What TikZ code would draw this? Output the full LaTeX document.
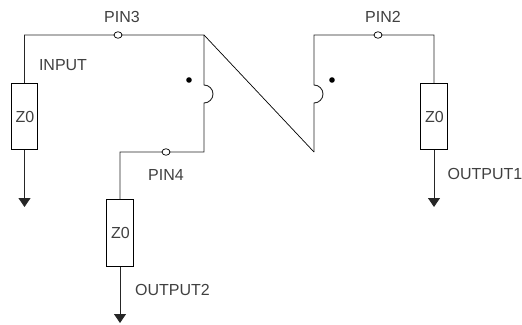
\documentclass[tikz,border=0pt]{standalone}
\usepackage{fontspec}
\setmainfont{Liberation Sans}
\usetikzlibrary{arrows.meta, shapes.geometric}
\tikzset{
 zbox/.style={draw, rectangle, minimum width=26.5pt, minimum height=66.5pt, inner sep=0pt, line width=0.9pt},
 pin/.style={draw, ellipse, fill=white, minimum width=8pt, minimum height=6.5pt, inner sep=0pt, line width=0.7pt},
 txt/.style={inner sep=0pt, font=\fontsize{16}{16}\selectfont, text=black!75},
 wire/.style={line width=0.9pt, black!85},
 gnd/.style={wire, -{Triangle[length=9pt,width=12pt]}}
}
\begin{document}
\begin{tikzpicture}[x=1pt,y=-1pt]
 \useasboundingbox (0,0) rectangle (522,324);

 % corners
 \coordinate (tl) at (24.5,35);
 \coordinate (tm) at (204,35);
 \coordinate (bm) at (204,152);
 \coordinate (bl) at (120,152);
 \coordinate (rl) at (314,35);
 \coordinate (rb) at (314,152);
 \coordinate (rr) at (434,35);
 \coordinate (bumpa) at (204,85);
 \coordinate (bumpd) at (314,103);

 % loads
 \node[zbox] (z1) at (24.5,116.5) {};
 \node[zbox] (z2) at (120,233) {};
 \node[zbox] (z3) at (434,116.5) {};
 \node[txt] (z1t) at (25,116.5) {Z0};
 \node[txt] (z2t) at (120.5,233) {Z0};
 \node[txt] (z3t) at (434.5,116.5) {Z0};

 % arrow ends
 \coordinate (e1) at (24.5,207);
 \coordinate (e2) at (120,323);
 \coordinate (e3) at (434,207);

 % wires
 \draw[wire] (z1) -- (tl) -- (tm) -- (bumpa) arc[start angle=90, end angle=-90, radius=9pt] -- (bm) -- (bl) -- (z2);
 \draw[wire] (rb) -- (bumpd) arc[start angle=-90, end angle=90, radius=9pt] -- (rl) -- (rr) -- (z3);
 \draw[line width=0.7pt] (tm) -- (rb);
 \draw[gnd] (z1) -- (e1);
 \draw[gnd] (z2) -- (e2);
 \draw[gnd] (z3) -- (e3);

 % pins
 \node[pin] (pin3) at (118,35) {};
 \node[pin] (pin4) at (166,152) {};
 \node[pin] (pin2) at (378,35) {};

 % dots
 \fill (189,80) circle (2.8pt);
 \fill (332,80) circle (2.8pt);

 % labels
 \node[txt] (pin3t) at (122,17) {PIN3};
 \node[txt] (pin2t) at (383,17) {PIN2};
 \node[txt] (pin4t) at (166,175) {PIN4};
 \node[txt] (input) at (63,65) {INPUT};
 \node[txt] (out1) at (485,174) {OUTPUT1};
 \node[txt] (out2) at (172.5,290) {OUTPUT2};
\end{tikzpicture}
\end{document}
